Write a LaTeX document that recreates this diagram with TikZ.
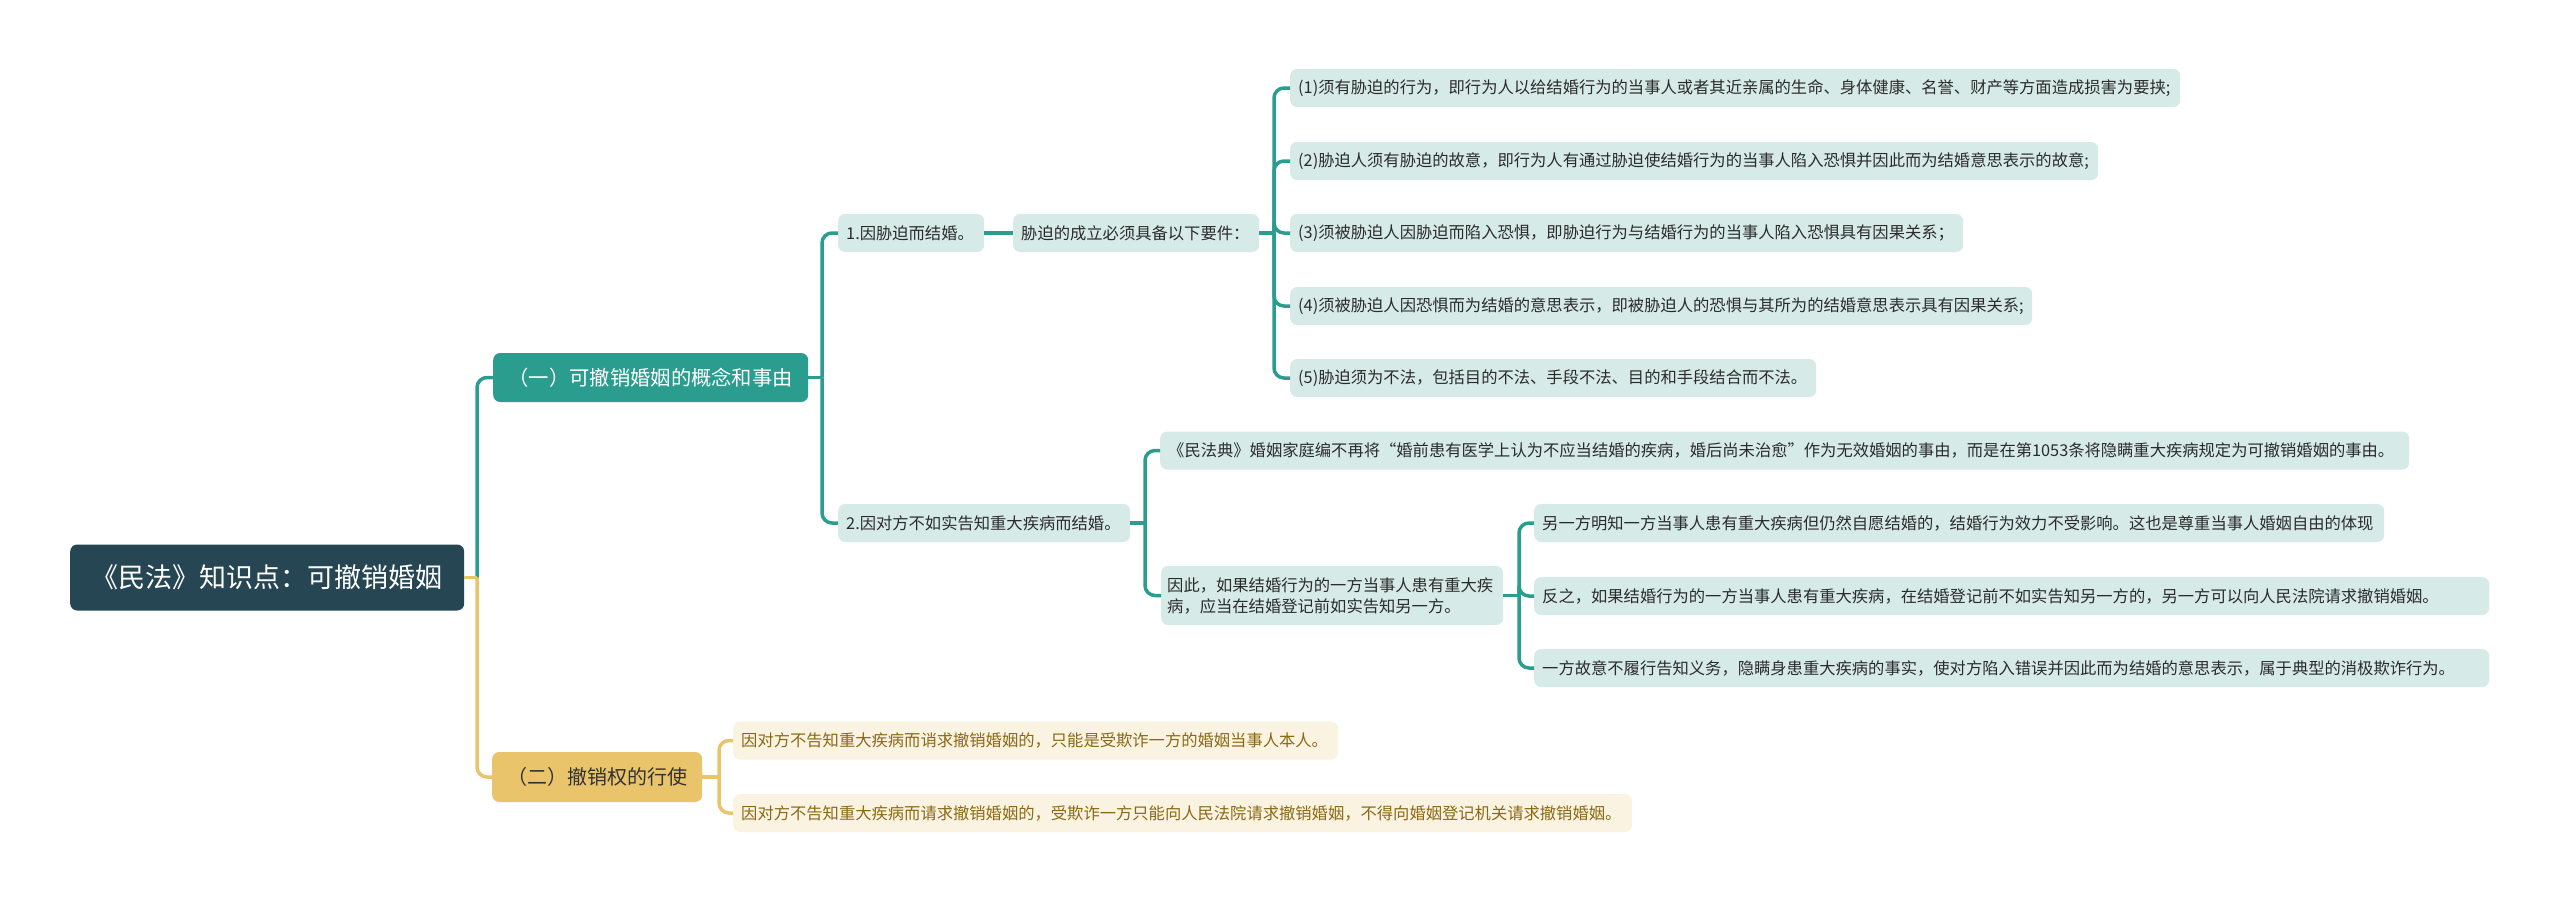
\documentclass[tikz,border=0pt]{standalone}
\usepackage{fontspec}
\setmainfont{Noto Sans CJK SC}
\definecolor{rootfill}{HTML}{264653}
\definecolor{teal}{HTML}{2A9D8F}
\definecolor{tealleaf}{HTML}{D6EBE8}
\definecolor{gold}{HTML}{E9C46A}
\definecolor{goldleaf}{HTML}{FBF3E1}
\definecolor{goldtext}{HTML}{8A6914}
\definecolor{leaftext}{HTML}{2B2B2B}
\newcommand\leafT[2]{\makebox[#1][l]{#2}}
\tikzset{
  tline/.style={draw=teal, line width=3.5pt, rounded corners=10pt},
  gline/.style={draw=gold, line width=3.5pt, rounded corners=10pt},
  rootbox/.style={fill=rootfill, text=white, rounded corners=7pt, anchor=west, minimum width=394pt, minimum height=66pt, inner sep=0pt, font=\fontsize{27}{32}\selectfont},
  tmain/.style={fill=teal, text=white, rounded corners=7pt, anchor=west, minimum height=49pt, inner sep=0pt, font=\fontsize{20.3}{24}\selectfont},
  gmain/.style={fill=gold, text=black!80, rounded corners=7pt, anchor=west, minimum height=50pt, inner sep=0pt, font=\fontsize{20}{24}\selectfont},
  tleaf/.style={fill=tealleaf, text=leaftext, rounded corners=7pt, anchor=west, minimum height=38pt, inner xsep=8pt, inner ysep=0pt, font=\fontsize{16.3}{21}\selectfont},
  gleaf/.style={fill=goldleaf, text=goldtext, rounded corners=7pt, anchor=west, minimum height=38pt, inner xsep=8pt, inner ysep=0pt, font=\fontsize{16.3}{21}\selectfont},
}
\begin{document}
\begin{tikzpicture}[x=1pt, y=-1pt]
\useasboundingbox (0,0) rectangle (2560,902);
\fill[white] (0,0) rectangle (2560,902);

% nodes
\node[rootbox, minimum width=394pt] (root) at (70,577.5) {《民法》知识点：可撤销婚姻};
\node[tmain, minimum width=315pt] (A1) at (493,377.5) {（一）可撤销婚姻的概念和事由};
\node[gmain, minimum width=210pt] (A2) at (492,777) {（二）撤销权的行使};

\node[tleaf] (B1) at (838,233) {\leafT{130pt}{1.因胁迫而结婚。}};
\node[tleaf] (C1) at (1013,233) {\leafT{230pt}{胁迫的成立必须具备以下要件：}};
\node[tleaf] (P1) at (1290,88) {\leafT{874pt}{(1)须有胁迫的行为，即行为人以给结婚行为的当事人或者其近亲属的生命、身体健康、名誉、财产等方面造成损害为要挟;}};
\node[tleaf] (P2) at (1290,161) {\leafT{792pt}{(2)胁迫人须有胁迫的故意，即行为人有通过胁迫使结婚行为的当事人陷入恐惧并因此而为结婚意思表示的故意;}};
\node[tleaf] (P3) at (1290,233) {\leafT{657pt}{(3)须被胁迫人因胁迫而陷入恐惧，即胁迫行为与结婚行为的当事人陷入恐惧具有因果关系；}};
\node[tleaf] (P4) at (1290,306) {\leafT{726pt}{(4)须被胁迫人因恐惧而为结婚的意思表示，即被胁迫人的恐惧与其所为的结婚意思表示具有因果关系;}};
\node[tleaf] (P5) at (1290,378) {\leafT{510pt}{(5)胁迫须为不法，包括目的不法、手段不法、目的和手段结合而不法。}};

\node[tleaf] (B2) at (838,523) {\leafT{276pt}{2.因对方不如实告知重大疾病而结婚。}};
\node[tleaf] (D1) at (1160,450.5) {\leafT{1233pt}{《民法典》婚姻家庭编不再将“婚前患有医学上认为不应当结婚的疾病，婚后尚未治愈”作为无效婚姻的事由，而是在第1053条将隐瞒重大疾病规定为可撤销婚姻的事由。}};
\node[tleaf, minimum height=59pt, inner xsep=6pt, text width=330pt, align=left] (D2) at (1161,595.5) {因此，如果结婚行为的一方当事人患有重大疾\\病，应当在结婚登记前如实告知另一方。};
\node[tleaf] (E1) at (1534,523) {\leafT{834pt}{另一方明知一方当事人患有重大疾病但仍然自愿结婚的，结婚行为效力不受影响。这也是尊重当事人婚姻自由的体现}};
\node[tleaf] (E2) at (1534,596) {\leafT{939pt}{反之，如果结婚行为的一方当事人患有重大疾病，在结婚登记前不如实告知另一方的，另一方可以向人民法院请求撤销婚姻。}};
\node[tleaf] (E3) at (1534,668) {\leafT{939pt}{一方故意不履行告知义务，隐瞒身患重大疾病的事实，使对方陷入错误并因此而为结婚的意思表示，属于典型的消极欺诈行为。}};

\node[gleaf] (F1) at (733,740.5) {\leafT{589pt}{因对方不告知重大疾病而诮求撤销婚姻的，只能是受欺诈一方的婚姻当事人本人。}};
\node[gleaf] (F2) at (733,813) {\leafT{883pt}{因对方不告知重大疾病而请求撤销婚姻的，受欺诈一方只能向人民法院请求撤销婚姻，不得向婚姻登记机关请求撤销婚姻。}};

% junctions
\coordinate (j0) at (477,577.5);
\coordinate (j1) at (822,377.5);
\coordinate (j2) at (1274,233);
\coordinate (j3) at (1145,523);
\coordinate (j4) at (1519,595.5);
\coordinate (j5) at (719,777);

% connectors
\draw[tline] (j0) |- (A1.west);
\draw[gline] (j0) |- (A2.west);
\draw[gline] (root.east) -- (j0);

\draw[tline] (A1.east) -- (j1);
\draw[tline] (j1) |- (B1.west);
\draw[tline] (j1) |- (B2.west);

\draw[tline] (B1.east) -- (C1.west);

\draw[tline] (C1.east) -- (j2);
\foreach \p in {P1,P2,P3,P4,P5} \draw[tline] (j2) |- (\p.west);

\draw[tline] (B2.east) -- (j3);
\draw[tline] (j3) |- (D1.west);
\draw[tline] (j3) |- (D2.west);

\draw[tline] (D2.east) -- (j4);
\foreach \e in {E1,E2,E3} \draw[tline] (j4) |- (\e.west);

\draw[gline] (A2.east) -- (j5);
\draw[gline] (j5) |- (F1.west);
\draw[gline] (j5) |- (F2.west);
\end{tikzpicture}
\end{document}
